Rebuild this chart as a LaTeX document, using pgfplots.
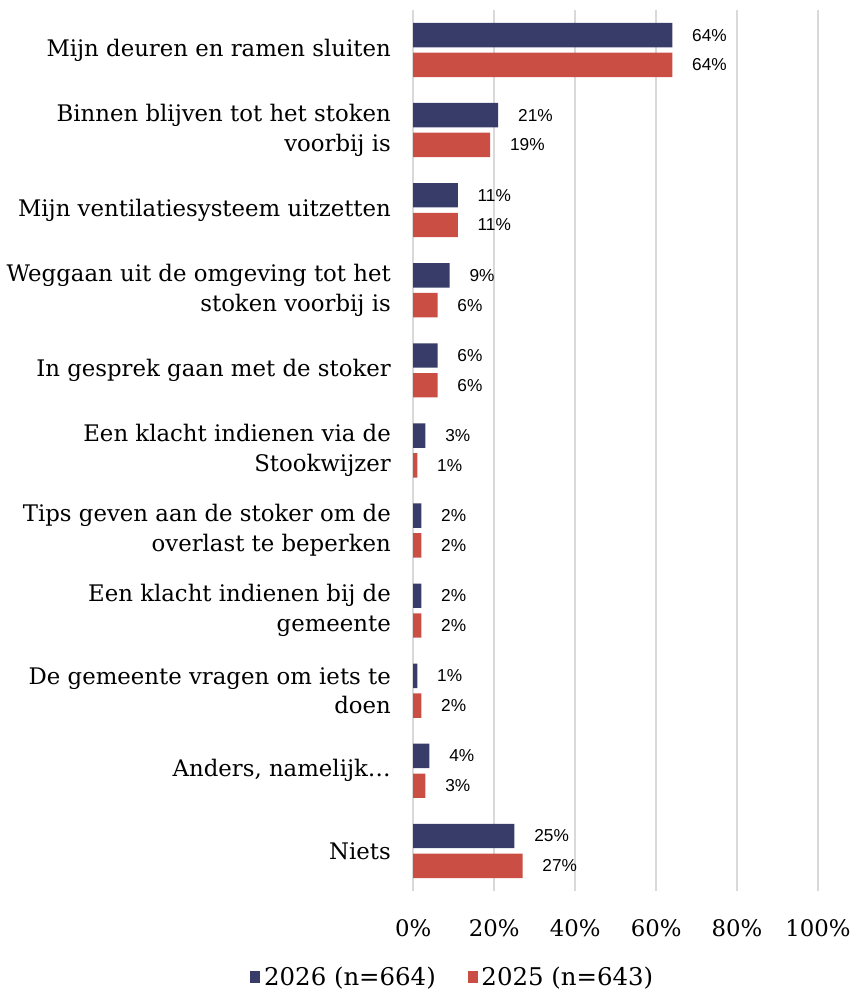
\documentclass[border=0pt]{standalone}
\usepackage{pgfplots}
\pgfplotsset{compat=1.18}
\usepackage{fontspec}
\setmainfont{DejaVu Serif}
\newfontfamily\valfont{Liberation Sans}

\definecolor{navy26}{HTML}{383C69}
\definecolor{red25}{HTML}{CB4E45}
\definecolor{gridgray}{HTML}{D9D9D9}

\begin{document}
\begin{tikzpicture}
\begin{axis}[
    xbar,
    scale only axis,
    width=204pt,
    height=444pt,
    y dir=reverse,
    xmin=0, xmax=100,
    ymin=-0.5, ymax=10.5,
    bar width=12.3pt,
    axis line style={draw=none},
    tick style={draw=none},
    xmajorgrids,
    major grid style={gridgray, line width=0.8pt},
    xtick={0,20,...,100},
    xticklabel={\pgfmathprintnumber{\tick}\%},
    /pgf/number format/assume math mode=true,
    xticklabel style={font=\fontsize{11.5}{13}\selectfont, yshift=-11pt},
    ytick={0,1,2,3,4,5,6,7,8,9,10},
    yticklabels={
        {Mijn deuren en ramen sluiten},
        {Binnen blijven tot het stoken\\voorbij is},
        {Mijn ventilatiesysteem uitzetten},
        {Weggaan uit de omgeving tot het\\stoken voorbij is},
        {In gesprek gaan met de stoker},
        {Een klacht indienen via de\\Stookwijzer},
        {Tips geven aan de stoker om de\\overlast te beperken},
        {Een klacht indienen bij de\\gemeente},
        {De gemeente vragen om iets te\\doen},
        {Anders, namelijk…},
        {Niets}},
    yticklabel style={align=right, font=\fontsize{11.5}{15}\selectfont, xshift=-3.5pt},
    nodes near coords={\pgfmathprintnumber{\pgfplotspointmeta}\%},
    nodes near coords style={font=\valfont\fontsize{8.7}{10}\selectfont, anchor=west, xshift=6.5pt, text=black},
    legend style={draw=none, at={(0.1,-0.098)}, anchor=center, legend columns=2,
        font=\fontsize{12.3}{14}\selectfont, /tikz/every even column/.append style={column sep=14pt}},
    legend image code/.code={\fill[#1] (0pt,-3pt) rectangle (5pt,3pt);},
]
\addplot[fill=navy26, draw=none, bar shift=7.5pt] coordinates {
    (64,0) (21,1) (11,2) (9,3) (6,4) (3,5) (2,6) (2,7) (1,8) (4,9) (25,10)};
\addplot[fill=red25, draw=none, bar shift=-7.5pt] coordinates {
    (64,0) (19,1) (11,2) (6,3) (6,4) (1,5) (2,6) (2,7) (2,8) (3,9) (27,10)};
\legend{2026 (n=664), 2025 (n=643)}
\end{axis}
\path (current axis.north) ++(0,5pt);
\path (current axis.west) ++(-6pt,0);
\end{tikzpicture}
\end{document}
